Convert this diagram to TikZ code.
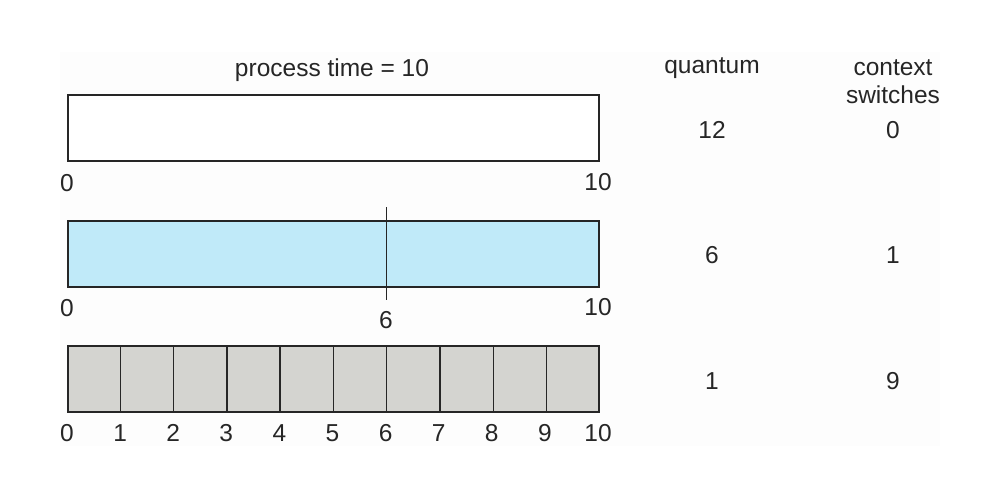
\documentclass[tikz,border=0pt]{standalone}
\usepackage{fontspec}
\setmainfont{Liberation Sans}
\usetikzlibrary{calc}
\definecolor{bluefill}{RGB}{192,234,249}
\definecolor{greyfill}{RGB}{212,212,208}
\definecolor{bgfill}{RGB}{253,253,253}
\tikzset{
  lbl/.style={inner sep=0pt, font=\fontsize{24.5}{28}\selectfont, text=black!85},
  bar/.style={draw=black!85, line width=2pt, minimum width=531pt, minimum height=66pt, inner sep=0pt, anchor=north west},
  divider/.style={draw=black!85, line width=1.4pt},
}
\begin{document}
\begin{tikzpicture}[x=1pt,y=-1pt]
\useasboundingbox (0,0) rectangle (991,503);
\fill[bgfill] (60,52) rectangle (940,446);
% headers
\node[lbl] (pt) at (332,70) {process time = 10};
\node[lbl] (qh) at (712,68) {quantum};
\node[lbl, align=center] (ch) at (893,82) {context\\switches};
% bar 1
\node[bar, fill=white] (b1) at (67,94) {};
\node[lbl] (b1l0) at (67,183) {0};
\node[lbl] (b1l10) at (598,182) {10};
\node[lbl] (q1) at (712,130) {12};
\node[lbl] (c1) at (893,130) {0};
% bar 2
\node[bar, fill=bluefill] (b2) at (67,220) {};
\coordinate (m6t) at (386,207);
\coordinate (m6b) at (386,300);
\draw[black!85, line width=1pt] (m6t) -- (m6b);
\node[lbl] (b2l0) at (67,308) {0};
\node[lbl] (b2l6) at (386,320) {6};
\node[lbl] (b2l10) at (598,307) {10};
\node[lbl] (q2) at (712,255) {6};
\node[lbl] (c2) at (893,255) {1};
% bar 3
\node[bar, fill=greyfill] (b3) at (67,345) {};
\foreach \i in {1,...,9} {
  \coordinate (t\i) at ($(b3.north west)!\i/10!(b3.north east)$);
  \coordinate (u\i) at ($(b3.south west)!\i/10!(b3.south east)$);
  \draw[divider] (t\i) -- (u\i);
}
\foreach \i in {0,...,10} {
  \node[lbl] (b3l\i) at ($(67,433)+(\i*53.1,0)$) {\i};
}
\node[lbl] (q3) at (712,381) {1};
\node[lbl] (c3) at (893,381) {9};
\end{tikzpicture}
\end{document}
